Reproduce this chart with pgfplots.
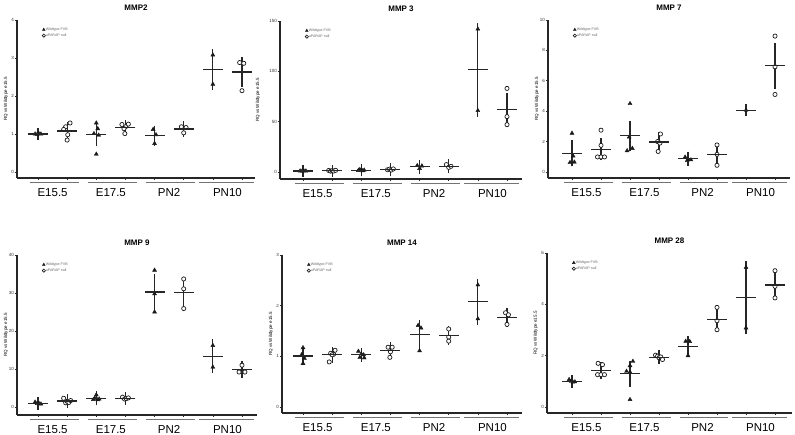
\documentclass[border=0pt]{standalone}
\usepackage{fontspec}
\setmainfont{Liberation Sans}
\usepackage{pgfplots}
\pgfplotsset{compat=1.18}

\newcommand{\grouplines}[1]{%
  \draw[line width=1.3pt, black!55] ([yshift=-4.5pt]axis cs:0.72,#1) -- ([yshift=-4.5pt]axis cs:2.4,#1);
  \draw[line width=1.3pt, black!55] ([yshift=-4.5pt]axis cs:2.72,#1) -- ([yshift=-4.5pt]axis cs:4.4,#1);
  \draw[line width=1.3pt, black!55] ([yshift=-4.5pt]axis cs:4.72,#1) -- ([yshift=-4.5pt]axis cs:6.38,#1);
  \draw[line width=1.3pt, black!55] ([yshift=-4.5pt]axis cs:6.52,#1) -- ([yshift=-4.5pt]axis cs:8.42,#1);
}

\pgfplotsset{
  panel/.style={
    scale only axis, clip=false,
    axis lines*=left,
    axis line style={line width=1.4pt, black!85},
    xtick={1,2,...,8}, xticklabels={,,,,,,,},
    tick align=outside, major tick length=2pt,
    tick style={line width=0.6pt, black!85},
    extra x ticks={1.5,3.5,5.5,7.5},
    extra x tick labels={E15.5,E17.5,PN2,PN10},
    extra x tick style={major tick length=0pt,
      xticklabel style={font=\fontsize{11.5}{12}\selectfont, anchor=base, yshift=-19pt}},
    /pgf/number format/assume math mode=true,
    yticklabel style={font=\fontsize{4.5}{5}\selectfont, text=black!80, inner sep=1pt},
    ylabel={RQ vs Wildtype e15.5},
    ylabel style={font=\fontsize{4.5}{5}\selectfont, at={(axis description cs:-0.046,0.5)}, anchor=center},
    title style={font=\bfseries\fontsize{8}{9}\selectfont, at={(0.5,1)}, anchor=base, yshift=3pt},
    legend style={draw=none, fill=none, at={(axis description cs:0,1)}, anchor=north west,
      xshift=25pt, yshift=-7pt, font=\fontsize{3.6}{4}\selectfont, text=black!60,
      row sep=0.8pt, inner sep=0pt, nodes={inner sep=0.5pt}},
    legend cell align=left,
  },
  wt/.style={only marks, mark=triangle*, mark size=2.3pt, black!90,
    legend image code/.code={\draw[##1, only marks, mark size=1.6pt] plot coordinates {(1.5pt,0pt)};}},
  nl/.style={only marks, mark=*, mark size=2.1pt, mark options={fill=white, draw=black!90, line width=0.7pt},
    legend image code/.code={\draw[##1, only marks, mark size=1.6pt] plot coordinates {(1.5pt,0pt)};}},
  mn/.style={forget plot, only marks, mark=-, mark size=10pt, mark options={line width=1.2pt, black!85},
    error bars/.cd, y dir=both, y explicit, error mark=-,
    error mark options={mark size=6pt, line width=1.1pt, black!85},
    error bar style={line width=1.1pt, black!85}},
}

\begin{document}
\begin{tikzpicture}
\path[use as bounding box] (0pt,0pt) rectangle (795pt,435pt);

% ---------- MMP2 ----------
\begin{axis}[panel, at={(17pt,257pt)}, anchor=south west, width=238pt, height=158pt,
  xmin=0.279, xmax=8.446, ymin=-0.158, ymax=4, ytick={0,1,2,3,4}, title={MMP2}]
\addplot[wt] coordinates {(0.9,1.0)(0.97,0.99)(1.03,1.01)(1.1,1.0) (3.0,1.29)(3.05,1.14)(2.92,1.01)(3.08,0.97)(3.0,0.47) (4.95,1.12)(5.05,0.98)(5.0,0.75) (7,3.08)(7,2.31)};
\addlegendentry{Wildtype FVB}
\addplot[nl] coordinates {(2.1,1.29)(1.95,1.19)(1.88,1.12)(2.02,0.98)(2.0,0.84) (3.88,1.25)(4.1,1.26)(4.0,1.19)(3.95,1.14)(3.98,1.01) (5.92,1.19)(6.08,1.17)(6.0,1.03) (7.92,2.88)(8.06,2.86)(8.0,2.14)};
\addlegendentry{uPARAP null}
\addplot[mn] coordinates {(1,1.0)+-(0,0.01) (2,1.08)+-(0,0.08) (3,0.98)+-(0,0.14) (4,1.17)+-(0,0.05) (5,0.95)+-(0,0.11) (6,1.13)+-(0,0.05) (7,2.70)+-(0,0.385) (8,2.63)+-(0,0.24)};
\grouplines{-0.158}
\end{axis}

% ---------- MMP 3 ----------
\begin{axis}[panel, at={(280pt,256pt)}, anchor=south west, width=242pt, height=158pt,
  xmin=0.211, xmax=8.515, ymin=-7, ymax=150, ytick={0,50,100,150}, title={MMP 3},
  ylabel style={at={(axis description cs:-0.091,0.5)}}]
\addplot[wt] coordinates {(0.9,1.0)(0.97,0.9)(1.03,1.1)(1.1,1.0) (2.9,1.5)(2.95,2.3)(3.0,2.0)(3.05,1.2)(3.1,1.8) (4.92,6.3)(5.0,3.5)(5.08,6.0) (7,142)(7,61)};
\addlegendentry{Wildtype FVB}
\addplot[nl] coordinates {(1.88,1.5)(1.95,0.8)(2.0,1.3)(2.05,0.9)(2.12,1.6) (3.9,2.2)(3.97,2.8)(4.03,1.9)(4.1,3.0) (5.92,7.3)(6.0,4.5)(6.08,5.6) (8,83)(8,55)(8,47)};
\addlegendentry{uPARAP null}
\addplot[mn] coordinates {(1,1.0)+-(0,0.05) (2,1.2)+-(0,0.15) (3,1.8)+-(0,0.2) (4,2.5)+-(0,0.25) (5,5.3)+-(0,0.9) (6,5.8)+-(0,0.8) (7,101.5)+-(0,40.5) (8,61.7)+-(0,10.9)};
\grouplines{-7}
\end{axis}

% ---------- MMP 7 ----------
\begin{axis}[panel, at={(548pt,257pt)}, anchor=south west, width=242pt, height=158pt,
  xmin=0.172, xmax=8.517, ymin=-0.395, ymax=10, ytick={0,2,4,6,8,10}, title={MMP 7}]
\addplot[wt] coordinates {(1.0,2.55)(1.04,1.05)(0.93,0.62)(1.08,0.65) (3.0,4.5)(2.97,2.3)(2.9,1.4)(3.08,1.55) (4.9,0.98)(5.0,0.85)(5.1,0.8)(4.97,0.75) (7,4.07)};
\addlegendentry{Wildtype FVB}
\addplot[nl] coordinates {(2.0,2.75)(2.0,1.75)(1.88,0.99)(2.0,0.99)(2.12,0.99) (4.05,2.5)(3.95,2.0)(4.03,1.9)(3.97,1.35) (6,1.78)(6,1.16)(6,0.44) (8,8.94)(8,6.92)(8,5.10)};
\addlegendentry{uPARAP null}
\addplot[mn] coordinates {(1,1.22)+-(0,0.46) (2,1.49)+-(0,0.33) (3,2.38)+-(0,0.6) (4,1.97)+-(0,0.24) (5,0.88)+-(0,0.06) (6,1.13)+-(0,0.39) (7,4.07)+-(0,0) (8,6.99)+-(0,1.11)};
\grouplines{-0.395}
\end{axis}

% ---------- MMP 9 ----------
\begin{axis}[panel, at={(17pt,20pt)}, anchor=south west, width=240pt, height=160pt,
  xmin=0.279, xmax=8.515, ymin=-2.1, ymax=40, ytick={0,10,20,30,40}, title={MMP 9}]
\addplot[wt] coordinates {(0.9,1.3)(0.97,0.9)(1.03,1.0)(1.1,0.8) (3.0,3.2)(2.9,2.0)(2.95,2.3)(3.05,1.9)(3.1,2.1) (5,36.0)(5,29.8)(5,25.0) (7,16.2)(7,10.5)};
\addlegendentry{Wildtype FVB}
\addplot[nl] coordinates {(1.88,2.3)(1.95,1.1)(2.0,1.5)(2.06,1.2)(2.12,1.7) (3.9,2.6)(3.97,2.1)(4.03,2.2)(4.1,2.4) (6,33.7)(6,31.1)(6,25.9) (8,11.0)(7.9,9.2)(8.1,9.2)};
\addlegendentry{uPARAP null}
\addplot[mn] coordinates {(1,1.0)+-(0,0.1) (2,1.56)+-(0,0.2) (3,2.3)+-(0,0.23) (4,2.33)+-(0,0.11) (5,30.27)+-(0,3.18) (6,30.23)+-(0,2.3) (7,13.35)+-(0,2.85) (8,9.8)+-(0,0.6)};
\grouplines{-2.1}
\end{axis}

% ---------- MMP 14 ----------
\begin{axis}[panel, at={(282pt,22pt)}, anchor=south west, width=240pt, height=158pt,
  xmin=0.279, xmax=8.515, ymin=-0.118, ymax=3, ytick={0,1,2,3}, title={MMP 14}]
\addplot[wt] coordinates {(1.0,1.17)(0.95,1.03)(1.05,0.96)(1.0,0.86) (2.9,1.10)(3.0,1.05)(3.08,1.03)(2.95,0.98)(3.1,0.97) (4.95,1.61)(5.05,1.56)(5.0,1.11) (7,2.41)(7,1.74)};
\addlegendentry{Wildtype FVB}
\addplot[nl] coordinates {(2.1,1.12)(1.95,1.06)(2.05,1.04)(2.0,1.03)(1.9,0.89) (3.92,1.18)(4.06,1.18)(4.0,1.09)(3.98,0.98) (6,1.54)(6,1.38)(6,1.30) (7.95,1.86)(8.05,1.82)(8,1.63)};
\addlegendentry{uPARAP null}
\addplot[mn] coordinates {(1,1.005)+-(0,0.065) (2,1.03)+-(0,0.04) (3,1.03)+-(0,0.025) (4,1.11)+-(0,0.05) (5,1.43)+-(0,0.16) (6,1.41)+-(0,0.07) (7,2.075)+-(0,0.335) (8,1.77)+-(0,0.07)};
\grouplines{-0.118}
\end{axis}

% ---------- MMP 28 ----------
\begin{axis}[panel, at={(547pt,22pt)}, anchor=south west, width=245pt, height=160pt,
  xmin=0.138, xmax=8.586, ymin=-0.234, ymax=6, ytick={0,2,4,6}, title={MMP 28}]
\addplot[wt] coordinates {(0.9,1.07)(0.97,1.0)(1.03,0.97)(1.1,0.98) (3.1,1.78)(3.0,1.61)(2.88,1.39)(3.0,1.36)(3.0,0.29) (4.92,2.56)(5.06,2.55)(5.0,2.0) (7,5.44)(7,3.08)};
\addlegendentry{Wildtype FVB}
\addplot[nl] coordinates {(1.9,1.70)(2.05,1.65)(1.88,1.26)(2.0,1.26)(2.12,1.26) (3.88,2.02)(3.95,1.98)(4.0,1.92)(4.06,1.95)(4.12,1.85) (6,3.88)(6,3.36)(6,3.01) (8,5.31)(8,4.70)(8,4.25)};
\addlegendentry{uPARAP null}
\addplot[mn] coordinates {(1,1.0)+-(0,0.02) (2,1.43)+-(0,0.1) (3,1.29)+-(0,0.27) (4,1.94)+-(0,0.03) (5,2.37)+-(0,0.18) (6,3.42)+-(0,0.25) (7,4.26)+-(0,1.18) (8,4.75)+-(0,0.31)};
\grouplines{-0.234}
\end{axis}
\end{tikzpicture}
\end{document}
